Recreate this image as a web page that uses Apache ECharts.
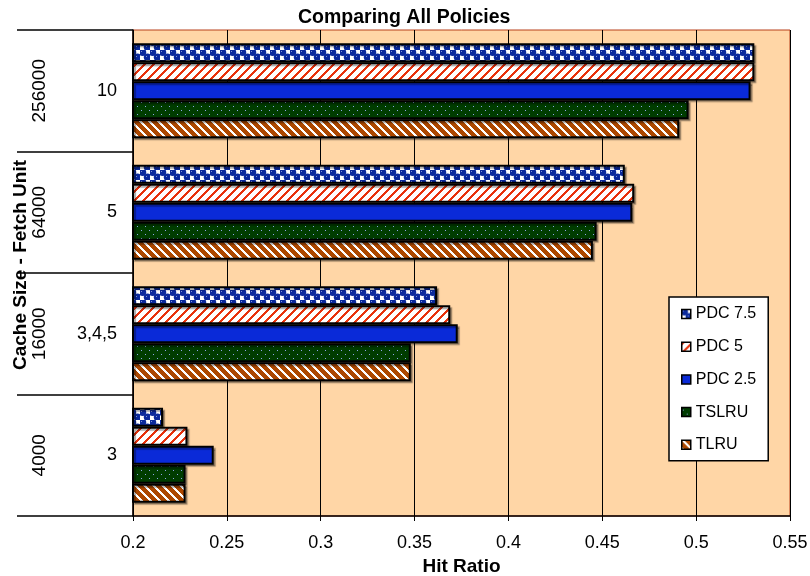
<!DOCTYPE html>
<html>
<head>
<meta charset="utf-8">
<title>Comparing All Policies</title>
<script src="https://cdn.jsdelivr.net/npm/echarts@6/dist/echarts.min.js"></script>
<style>
  html, body { margin: 0; padding: 0; background: #ffffff; }
  #chart { width: 810px; height: 576px; }
</style>
</head>
<body>
<div id="chart"></div>
<script>
// Cache sizes (outer level) and fetch units (inner level), bottom to top
const cacheSizes = ['4000', '16000', '64000', '256000'];
const fetchUnits = ['3', '3,4,5', '5', '10'];

// Hit ratio per policy, one value per cache size
const policyNames = ['PDC 7.5', 'PDC 5', 'PDC 2.5', 'TSLRU', 'TLRU'];
const pdc75 = [0.216, 0.362, 0.462, 0.531];
const pdc5  = [0.229, 0.369, 0.467, 0.531];
const pdc25 = [0.243, 0.373, 0.466, 0.529];
const tslru = [0.228, 0.348, 0.447, 0.496];
const tlru  = [0.228, 0.348, 0.445, 0.491];

// Hit ratio axis range
const hitMin = 0.2, hitMax = 0.55, hitStep = 0.05;

const FONT = '"Liberation Sans", Arial, sans-serif';

// ---- fill patterns drawn on small canvases ----
function tile(w, h, paint) {
  const c = document.createElement('canvas');
  c.width = w; c.height = h;
  const ctx = c.getContext('2d');
  paint(ctx, w, h);
  return { image: c, repeat: 'repeat' };
}
function stripes(bg, fg, period, thick, dir) {
  return tile(period, period, (ctx, w, h) => {
    ctx.fillStyle = bg; ctx.fillRect(0, 0, w, h);
    ctx.fillStyle = fg;
    for (let y = 0; y < h; y++) {
      for (let x = 0; x < w; x++) {
        const k = dir > 0 ? (x + y) % period : ((x - y) % period + period) % period;
        if (k < thick) ctx.fillRect(x, y, 1, 1);
      }
    }
  });
}
// blue balls on white, in staggered rows
const checkFill = tile(10, 10, (ctx) => {
  ctx.fillStyle = '#ffffff'; ctx.fillRect(0, 0, 10, 10);
  ctx.fillStyle = '#0b2a9c';
  ctx.fillRect(0, 0, 5, 5); ctx.fillRect(5, 5, 5, 5);
  ctx.beginPath(); ctx.arc(2.5, 2.3, 3.7, 0, Math.PI * 2); ctx.fill();
  ctx.beginPath(); ctx.arc(7.5, 7.3, 3.7, 0, Math.PI * 2); ctx.fill();
  ctx.fillStyle = '#8094d8';
  ctx.fillRect(1, 1, 1, 1); ctx.fillRect(6, 6, 1, 1);
});
const redStripeFill = stripes('#ffffff', '#e8320c', 9, 3, 1);
const brownStripeFill = stripes('#ad4800', '#ffffff', 9, 3, -1);
const dottedGreenFill = tile(8, 8, (ctx) => {
  ctx.fillStyle = '#003c00'; ctx.fillRect(0, 0, 8, 8);
  ctx.fillStyle = '#8fa6e8';
  ctx.fillRect(1, 2, 1, 1); ctx.fillRect(5, 6, 1, 1);
});
const solidBlue = '#0a2ad8';

const fills = [checkFill, redStripeFill, solidBlue, dottedGreenFill, brownStripeFill];
const values = [pdc75, pdc5, pdc25, tslru, tlru];

const series = policyNames.map((name, i) => ({
  name: name,
  type: 'bar',
  yAxisIndex: 0,
  data: values[i],
  barGap: '0%',
  barCategoryGap: '22%',
  itemStyle: {
    color: fills[i],
    borderColor: '#000000',
    borderWidth: 2,
    shadowColor: 'rgba(0,0,0,0.35)',
    shadowOffsetX: 2,
    shadowOffsetY: 2,
    shadowBlur: 1
  },
  emphasis: { disabled: true }
}));

const chart = echarts.init(document.getElementById('chart'), null, { renderer: 'canvas' });
chart.setOption({
  animation: false,
  backgroundColor: '#ffffff',
  title: {
    text: 'Comparing All Policies',
    left: 293,
    top: 3,
    textStyle: { fontFamily: FONT, fontSize: 19.5, fontWeight: 'bold', color: '#000' }
  },
  legend: {
    orient: 'vertical',
    left: 669,
    top: 297,
    data: policyNames,
    backgroundColor: '#ffffff',
    borderColor: '#000000',
    borderWidth: 1.5,
    padding: [9, 12, 8, 12],
    itemGap: 16.7,
    itemWidth: 9,
    itemHeight: 9,
    icon: 'rect',
    selectedMode: false,
    itemStyle: { borderColor: '#000', borderWidth: 1.5, shadowColor: 'transparent' },
    textStyle: { fontFamily: FONT, fontSize: 16, color: '#000', lineHeight: 16 }
  },
  grid: {
    left: 133,
    right: 20,
    top: 30,
    bottom: 60,
    outerBoundsMode: 'none',
    containLabel: false,
    show: true,
    backgroundColor: '#ffd6a6',
    borderColor: '#b8401a',
    borderWidth: 1
  },
  xAxis: {
    type: 'value',
    min: hitMin,
    max: hitMax,
    interval: hitStep,
    name: 'Hit Ratio',
    nameLocation: 'middle',
    nameGap: 37,
    nameTextStyle: { fontFamily: FONT, fontSize: 19, fontWeight: 'bold', color: '#000' },
    axisLine: { show: true, lineStyle: { color: '#000', width: 1.5 } },
    axisTick: { show: true, length: 5, lineStyle: { color: '#000' } },
    axisLabel: {
      fontFamily: FONT, fontSize: 18, color: '#000', margin: 18,
      formatter: (v) => String(+v.toFixed(2))
    },
    splitLine: { show: true, lineStyle: { color: '#000', width: 1 } }
  },
  yAxis: [
    {
      type: 'category',
      data: cacheSizes,
      position: 'left',
      offset: 0,
      name: 'Cache Size - Fetch Unit',
      nameLocation: 'middle',
      nameRotate: 90,
      nameGap: 103,
      nameTextStyle: {
        fontFamily: FONT, fontSize: 19, fontWeight: 'bold', color: '#000',
        padding: [0, 0, 0, 16]
      },
      axisLine: { show: true, lineStyle: { color: '#000', width: 1.5 } },
      axisTick: { show: true, length: 116, lineStyle: { color: '#000', width: 1.5 } },
      axisLabel: {
        fontFamily: FONT, fontSize: 18, color: '#000', margin: 16,
        formatter: (v, idx) => fetchUnits[idx]
      },
      splitLine: { show: false }
    },
    {
      type: 'category',
      data: cacheSizes,
      position: 'left',
      offset: 0,
      axisLine: { show: false },
      axisTick: { show: false },
      splitLine: { show: false },
      axisLabel: {
        fontFamily: FONT, fontSize: 19, color: '#000',
        rotate: 90, margin: 93, align: 'center', verticalAlign: 'middle'
      }
    }
  ],
  series: series
});
</script>
</body>
</html>
